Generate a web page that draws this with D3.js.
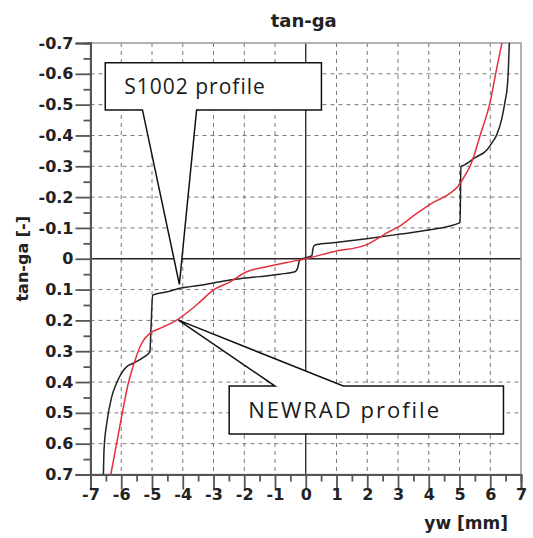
<!DOCTYPE html>
<html><head><meta charset="utf-8">
<script src="https://cdn.jsdelivr.net/npm/d3@7"></script>
<style>
html,body{margin:0;padding:0;background:#fff;}
svg{display:block;}
</style></head>
<body>
<svg id="chart" width="533" height="538"></svg>
<script>
// ---- data ----
const xTicks = [-7,-6,-5,-4,-3,-2,-1,0,1,2,3,4,5,6,7];
const yTicks = [-0.7,-0.6,-0.5,-0.4,-0.3,-0.2,-0.1,0,0.1,0.2,0.3,0.4,0.5,0.6,0.7];
const xMinorTicks = [-6.5,-5.5,-4.5,-3.5,-2.5,-1.5,-0.5,0.5,1.5,2.5,3.5,4.5,5.5,6.5];
const yMinorTicks = [-0.65,-0.55,-0.45,-0.35,-0.25,-0.15,-0.05,0.05,0.15,0.25,0.35,0.45,0.55,0.65];

const s1002X = [-6.58,-6.56,-6.47,-6.31,-6.15,-5.99,-5.82,-5.61,-5.28,-5.07,-5.03,-4.98,-4.5,-4.09,-3.3,-2.46,-1.5,-0.84,-0.35,-0.27,-0.22,-0.19,0.2,0.23,0.27,0.36,0.9,1.98,3.07,3.99,5.02,5.045,5.13,5.51,5.89,6.05,6.21,6.38,6.48,6.56,6.59,6.62];
const s1002Y = [0.70,0.62,0.533,0.448,0.403,0.371,0.350,0.339,0.320,0.302,0.22,0.118,0.107,0.096,0.084,0.069,0.058,0.050,0.042,0.032,0.012,0.003,-0.010,-0.03,-0.042,-0.046,-0.052,-0.065,-0.080,-0.093,-0.117,-0.299,-0.303,-0.328,-0.353,-0.375,-0.402,-0.456,-0.510,-0.564,-0.618,-0.70];

const newradX = [-6.34,-6.15,-5.99,-5.77,-5.55,-5.34,-5.07,-4.74,-4.20,-3.76,-3.44,-3.01,-2.46,-1.92,-1.27,-0.62,0,0.9,1.98,2.35,2.7,3.07,3.61,4.15,4.69,4.96,5.13,5.34,5.45,5.67,6.0,6.21,6.38];
const newradY = [0.70,0.599,0.513,0.404,0.329,0.275,0.242,0.226,0.199,0.167,0.140,0.102,0.075,0.042,0.026,0.012,0,-0.023,-0.046,-0.066,-0.087,-0.107,-0.147,-0.183,-0.212,-0.236,-0.262,-0.300,-0.328,-0.40,-0.51,-0.618,-0.70];

const title = "tan-ga";
const yTitle = "tan-ga [-]";
const xTitle = "yw [mm]";
const calloutLabels = ["S1002 profile", "NEWRAD profile"];
// callout geometry in data units: box x0,x1,y0,y1, pointer base xa,xb, tip x,y
const calloutBoxX0 = [-6.52, -2.49];
const calloutBoxX1 = [0.51, 6.43];
const calloutBoxY0 = [-0.636, 0.413];
const calloutBoxY1 = [-0.483, 0.569];
const calloutBaseA = [-5.31, -1.0];
const calloutBaseB = [-3.55, 1.22];
const calloutTipX = [-4.11, -4.14];
const calloutTipY = [0.083, 0.199];

// ---- layout ----
const L = 90.5, R = 521, T = 43, B = 474.5;
const svg = d3.select("#chart");
const x = d3.scaleLinear().domain([-7,7]).range([L,R]);
const y = d3.scaleLinear().domain([-0.7,0.7]).range([T,B]);

const fmtY = d => d === 0 ? "0" : d.toFixed(1);
const fmtX = d => String(d);

// grid
const grid = svg.append("g");
grid.selectAll("line.vg").data(xTicks.filter(d => d !== 0 && d !== -7 && d !== 7)).enter()
  .append("line").attr("x1", d => x(d)).attr("x2", d => x(d)).attr("y1", T).attr("y2", B)
  .attr("stroke", "#777").attr("stroke-width", 1).attr("stroke-dasharray", "4,4");
grid.selectAll("line.hg").data(yTicks.filter(d => d !== 0 && Math.abs(d) !== 0.7)).enter()
  .append("line").attr("y1", d => y(d)).attr("y2", d => y(d)).attr("x1", L).attr("x2", R)
  .attr("stroke", "#777").attr("stroke-width", 1).attr("stroke-dasharray", "4,4");
// zero lines
svg.append("line").attr("x1", x(0)).attr("x2", x(0)).attr("y1", T).attr("y2", B)
  .attr("stroke", "#222").attr("stroke-width", 1.3);
svg.append("line").attr("x1", L).attr("x2", R).attr("y1", y(0)).attr("y2", y(0))
  .attr("stroke", "#222").attr("stroke-width", 1.3);

// frame
svg.append("rect").attr("x", L).attr("y", T).attr("width", R - L).attr("height", B - T)
  .attr("fill", "none").attr("stroke", "#999").attr("stroke-width", 1.5);

// axes
const axisFont = "'DejaVu Sans', 'Liberation Sans', Arial, sans-serif";
const yAxis = svg.append("g").attr("transform", `translate(${L},0)`)
  .call(d3.axisLeft(y).tickValues(yTicks).tickSize(15).tickPadding(2).tickFormat(fmtY));
const yMinor = svg.append("g").attr("transform", `translate(${L},0)`)
  .call(d3.axisLeft(y).tickValues(yMinorTicks).tickSize(7).tickFormat(""));
const xAxis = svg.append("g").attr("transform", `translate(0,${B})`)
  .call(d3.axisBottom(x).tickValues(xTicks).tickSize(15).tickPadding(0).tickFormat(fmtX));
const xMinor = svg.append("g").attr("transform", `translate(0,${B})`)
  .call(d3.axisBottom(x).tickValues(xMinorTicks).tickSize(7).tickFormat(""));
[yAxis, yMinor, xAxis, xMinor].forEach(g => {
  g.select(".domain").attr("stroke", "#555").attr("stroke-width", 1.8);
  g.selectAll(".tick line").attr("stroke", "#555").attr("stroke-width", 1.8);
  g.selectAll(".tick text").attr("fill", "#222").style("font-family", axisFont)
    .style("font-weight", "bold").style("font-size", "16px");
});
xAxis.selectAll(".tick text").attr("dy", "0.68em");

// curves
svg.append("clipPath").attr("id", "clip").append("rect")
  .attr("x", L).attr("y", T).attr("width", R - L).attr("height", B - T);
const mk = (xs, ys) => xs.map((v, i) => [v, ys[i]]);
const lineGen = d3.line().x(d => x(d[0])).y(d => y(d[1])).curve(d3.curveMonotoneX);
const curves = svg.append("g").attr("clip-path", "url(#clip)");
curves.append("path").attr("d", lineGen(mk(s1002X, s1002Y)))
  .attr("fill", "none").attr("stroke", "#222").attr("stroke-width", 1.5);
curves.append("path").attr("d", lineGen(mk(newradX, newradY)))
  .attr("fill", "none").attr("stroke", "#e3303c").attr("stroke-width", 1.5);

// callouts
const calloutFont = "'Open Sans', 'Noto Sans', sans-serif";
calloutLabels.forEach((lab, i) => {
  const x0 = x(calloutBoxX0[i]), x1 = x(calloutBoxX1[i]);
  const y0 = y(calloutBoxY0[i]), y1 = y(calloutBoxY1[i]);
  const a = x(calloutBaseA[i]), b = x(calloutBaseB[i]);
  const tx = x(calloutTipX[i]), ty = y(calloutTipY[i]);
  let p;
  if (ty > y1) {
    p = `M${x0},${y0}H${x1}V${y1}H${b}L${tx},${ty}L${a},${y1}H${x0}Z`;
  } else {
    p = `M${x0},${y0}H${a}L${tx},${ty}L${b},${y0}H${x1}V${y1}H${x0}Z`;
  }
  svg.append("path").attr("d", p).attr("fill", "#fff").attr("stroke", "#111")
    .attr("stroke-width", 1.5).attr("stroke-linejoin", "miter");
  svg.append("text").attr("x", x0 + 19).attr("y", (y0 + y1) / 2 + 8)
    .attr("fill", "#1a1a1a").style("font-family", calloutFont)
    .style("font-size", i === 0 ? "21px" : "22px")
    .style("letter-spacing", i === 0 ? "1px" : "2px")
    .text(lab);
});

// titles
svg.append("text").attr("x", (L + R) / 2 - 2).attr("y", 27).attr("text-anchor", "middle")
  .style("font-family", axisFont).style("font-weight", "bold").style("font-size", "18px")
  .attr("fill", "#222").text(title);
svg.append("text").attr("transform", `translate(28,${y(0)}) rotate(-90)`).attr("text-anchor", "middle")
  .style("font-family", axisFont).style("font-weight", "bold").style("font-size", "16px")
  .attr("fill", "#222").text(yTitle);
svg.append("text").attr("x", 508).attr("y", 529).attr("text-anchor", "end")
  .style("font-family", axisFont).style("font-weight", "bold").style("font-size", "17px")
  .attr("fill", "#222").text(xTitle);
</script>
</body></html>
